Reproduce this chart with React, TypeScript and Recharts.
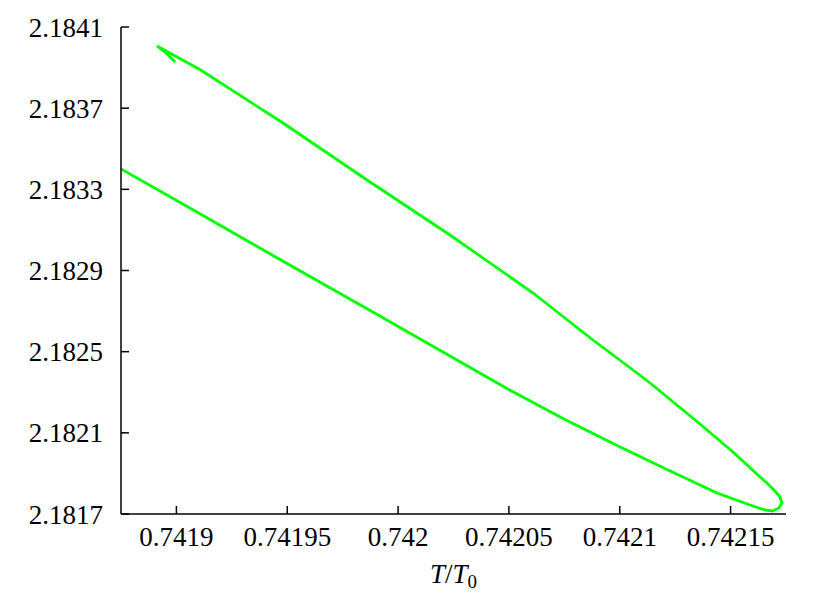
import React from "react";
import { LineChart, Line, XAxis, YAxis } from "recharts";

// Trajectory in the (T/T0, value) plane
const tValues: number[] = [
  0.741875, 0.7419124, 0.7419503, 0.7419878, 0.7420234, 0.7420491, 0.7420744,
  0.7420988, 0.7421213, 0.7421439, 0.7421588, 0.7421655, 0.7421687, 0.7421718,
  0.7421732, 0.7421723, 0.74217, 0.7421664, 0.7421633, 0.7421511, 0.7421362,
  0.7421137, 0.7420988, 0.7420879, 0.7420609, 0.7420234, 0.741986, 0.7419481,
  0.7419106, 0.7419007, 0.7418912, 0.7418953, 0.7418994,
];
const yValues: number[] = [
  2.1834002, 2.1831686, 2.182932, 2.1827004, 2.1824787, 2.1823185, 2.1821706,
  2.1820376, 2.1819193, 2.1818035, 2.1817444, 2.1817197, 2.1817148, 2.1817296,
  2.1817542, 2.1817838, 2.1818134, 2.1818528, 2.1818824, 2.1820056, 2.1821435,
  2.1823456, 2.1824688, 2.1825575, 2.1827891, 2.183075, 2.183346, 2.1836269,
  2.1838906, 2.1839497, 2.1840064, 2.1839719, 2.1839275,
];

const xTicks: number[] = [0.7419, 0.74195, 0.742, 0.74205, 0.7421, 0.74215];
const xTickLabels: string[] = ["0.7419", "0.74195", "0.742", "0.74205", "0.7421", "0.74215"];
const yTicks: number[] = [2.1817, 2.1821, 2.1825, 2.1829, 2.1833, 2.1837, 2.1841];
const yTickLabels: string[] = ["2.1817", "2.1821", "2.1825", "2.1829", "2.1833", "2.1837", "2.1841"];
const xDomain: [number, number] = [0.741875, 0.742175];
const yDomain: [number, number] = [2.1817, 2.1841];

const data = tValues.map((t, i) => ({ x: t, y: yValues[i] }));

const FONT = "'Liberation Serif', 'DejaVu Serif', serif";

const AxisTitle = (props: any) => {
  const vb = props.viewBox || {};
  const cx = vb.x + vb.width / 2;
  const y = vb.y + 69;
  return (
    <text x={cx} y={y} textAnchor="middle" fontFamily={FONT} fontSize={27} fill="#000">
      <tspan fontStyle="italic">T</tspan>
      <tspan>/</tspan>
      <tspan fontStyle="italic">T</tspan>
      <tspan fontSize={19} dy={5}>0</tspan>
    </text>
  );
};

const fmtX = (v: number) => {
  const i = xTicks.indexOf(v);
  return i >= 0 ? xTickLabels[i] : String(v);
};
const fmtY = (v: number) => {
  const i = yTicks.indexOf(v);
  return i >= 0 ? yTickLabels[i] : String(v);
};

export default function App() {
  const axisStroke = { stroke: "#000", strokeWidth: 1.5 };
  const tickStyle = { fill: "#000", fontSize: 27, fontFamily: FONT };
  return (
    <div style={{ position: "absolute", left: 0, top: 0, background: "#fff" }}>
      <LineChart
        width={831}
        height={603}
        data={data}
        margin={{ top: 27, right: 45, bottom: 0, left: 0 }}
      >
        <XAxis
          xAxisId="bottom"
          type="number"
          dataKey="x"
          domain={xDomain}
          ticks={xTicks}
          allowDataOverflow
          tickFormatter={fmtX}
          height={89}
          tickSize={-8}
          tickMargin={21}
          axisLine={axisStroke}
          tickLine={axisStroke}
          tick={tickStyle}
          interval={0}
          label={<AxisTitle />}
        />
        <XAxis
          xAxisId="top"
          orientation="top"
          type="number"
          dataKey="x"
          domain={xDomain}
          ticks={xTicks}
          allowDataOverflow
          height={0}
          tickSize={-8}
          axisLine={axisStroke}
          tickLine={axisStroke}
          tick={false}
          interval={0}
        />
        <YAxis
          yAxisId="left"
          type="number"
          domain={yDomain}
          ticks={yTicks}
          allowDataOverflow
          tickFormatter={fmtY}
          width={121}
          tickSize={-8}
          tickMargin={26}
          axisLine={axisStroke}
          tickLine={axisStroke}
          tick={tickStyle}
          interval={0}
        />
        <YAxis
          yAxisId="right"
          orientation="right"
          type="number"
          domain={yDomain}
          ticks={yTicks}
          allowDataOverflow
          width={0}
          tickSize={-8}
          axisLine={axisStroke}
          tickLine={axisStroke}
          tick={false}
          interval={0}
        />
        <Line
          xAxisId="bottom"
          yAxisId="left"
          type="linear"
          dataKey="y"
          stroke="#00ff00"
          strokeWidth={2.8}
          dot={false}
          activeDot={false}
          isAnimationActive={false}
        />
      </LineChart>
    </div>
  );
}
